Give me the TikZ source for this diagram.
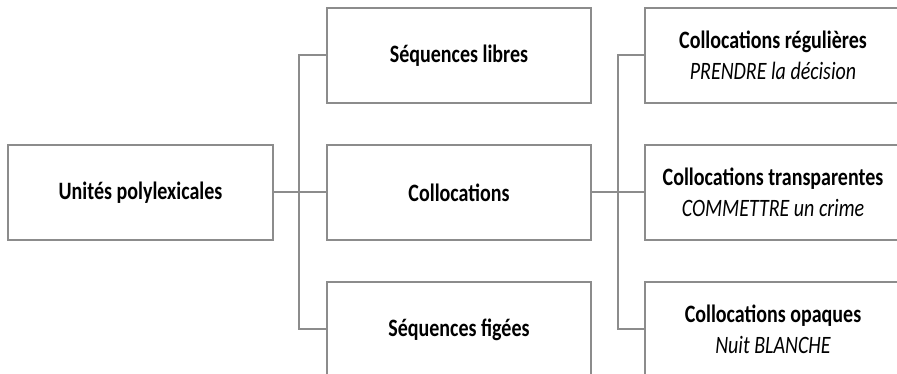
\documentclass[tikz,border=0pt]{standalone}
\usepackage{fontspec}
\setmainfont{Carlito}
\usetikzlibrary{positioning}
\newcommand{\etire}[1]{\scalebox{1}[1.25]{#1}}

\begin{document}
\begin{tikzpicture}[x=1pt, y=1pt,
    boite/.style={draw=gray!90, line width=2pt, fill=white, minimum width=264pt, minimum height=95pt, align=center, inner sep=0pt, font=\fontsize{20}{23}\selectfont\bfseries},
    lien/.style={draw=gray!90, line width=2pt}]
    \useasboundingbox (0,0) rectangle (897,374);
    \clip (0,0) rectangle (897,374);

    \node[boite] (colloc) at (459,181.5) {\etire{Collocations}};
    \node[boite, above=40pt of colloc] (libres) {\etire{Séquences libres}};
    \node[boite, below=40pt of colloc] (figees) {\etire{Séquences figées}};
    \node[boite, minimum width=265pt, left=52pt of colloc] (unites) {\etire{Unités polylexicales}};

    \node[boite, minimum width=256pt, right=52pt of libres] (regul) {\etire{Collocations régulières}\\[8pt]\etire{\mdseries\itshape PRENDRE la décision}};
    \node[boite, minimum width=256pt, right=52pt of colloc] (transp) {\etire{Collocations transparentes}\\[8pt]\etire{\mdseries\itshape COMMETTRE un crime}};
    \node[boite, minimum width=256pt, right=52pt of figees] (opaq) {\etire{Collocations opaques}\\[8pt]\etire{\mdseries\itshape Nuit BLANCHE}};

    \draw[lien] (unites.east) -- (colloc.west);
    \draw[lien] (unites.east) -- ++(25,0) |- (libres.west);
    \draw[lien] (unites.east) -- ++(25,0) |- (figees.west);

    \draw[lien] (colloc.east) -- (transp.west);
    \draw[lien] (colloc.east) -- ++(26,0) |- (regul.west);
    \draw[lien] (colloc.east) -- ++(26,0) |- (opaq.west);
\end{tikzpicture}
\end{document}
